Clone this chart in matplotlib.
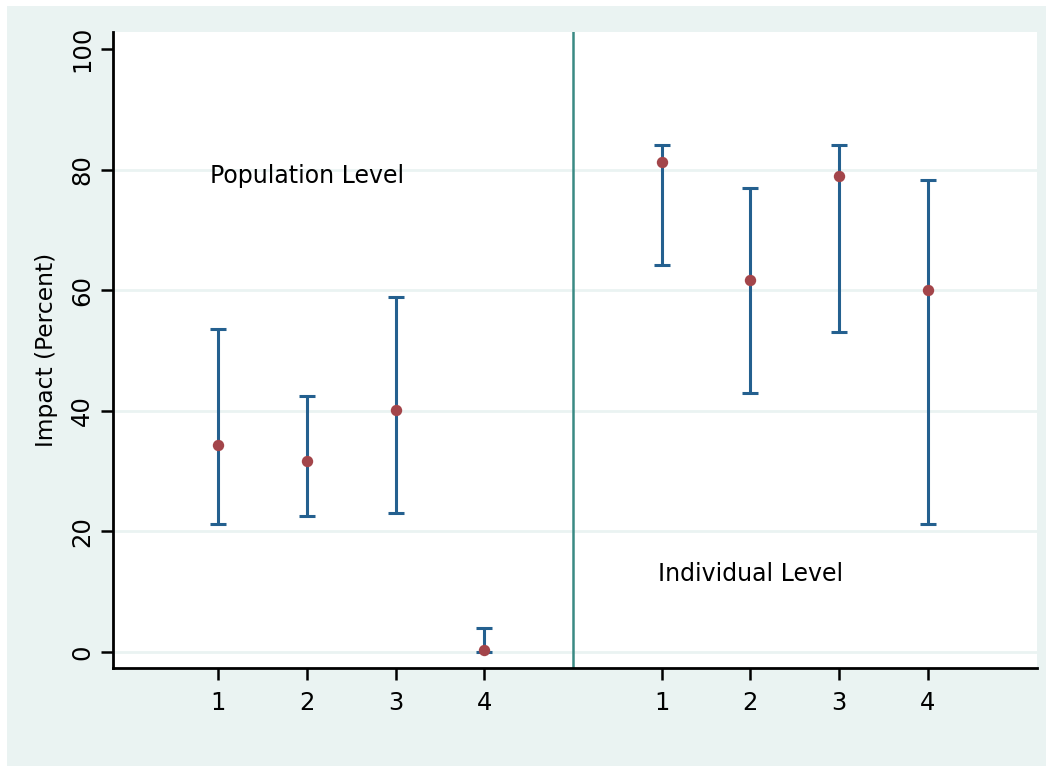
import matplotlib
matplotlib.use("Agg")
import matplotlib.pyplot as plt
from matplotlib.patches import Rectangle
import numpy as np

# ---- data ----
categories = ["1", "2", "3", "4"]
pop_est = [34.3, 31.6, 40.1, 0.3]
pop_lo = [21.2, 22.6, 23.1, 0.0]
pop_hi = [53.6, 42.5, 58.9, 4.0]
ind_est = [81.2, 61.7, 79.0, 60.0]
ind_lo = [64.2, 42.9, 53.1, 21.3]
ind_hi = [84.1, 76.9, 84.1, 78.2]
pop_x = [1, 2, 3, 4]
ind_x = [6, 7, 8, 9]
divider_x = 5
yticks = [0, 20, 40, 60, 80, 100]

BG = "#eaf3f2"
BAR = "#24608f"
PT = "#a3454a"
DIV = "#3a8a84"

plt.rcParams['font.family'] = ['DejaVu Sans']

W, H = 1051, 768
fig = plt.figure(figsize=(W / 100, H / 100), dpi=100, facecolor="white")

bgax = fig.add_axes([0, 0, 1, 1], zorder=-10)
bgax.set_axis_off()
bgax.set_xlim(0, 1)
bgax.set_ylim(0, 1)
bgax.add_patch(Rectangle((7 / W, 2 / H), 1039 / W, 760 / H,
                         facecolor=BG, edgecolor="none"))

ax = fig.add_axes([113 / W, 100 / H, (1037 - 113) / W, (668 - 32) / H], zorder=1)
ax.set_facecolor("white")

for y in yticks[:-1]:
    ax.axhline(y, color=BG, lw=2.0, zorder=1)

ax.axvline(divider_x, color=DIV, lw=1.8, zorder=2)

for xs, est, lo, hi in [(pop_x, pop_est, pop_lo, pop_hi),
                        (ind_x, ind_est, ind_lo, ind_hi)]:
    est = np.array(est)
    yerr = [est - np.array(lo), np.array(hi) - est]
    ax.errorbar(xs, est, yerr=yerr, fmt="none", ecolor=BAR, elinewidth=2.2,
                capsize=5.8, capthick=2.2, zorder=3)
    ax.plot(xs, est, "o", color=PT, ms=8.2, mec="none", zorder=4)

ax.text(0.906, 79.0, "Population Level", fontsize=17, va="center", ha="left")
ax.text(5.96, 13.0, "Individual Level", fontsize=17, va="center", ha="left")

ax.set_xlim(-0.188, 10.235)
ax.set_ylim(-2.66, 102.8)
ax.set_xticks(pop_x + ind_x)
ax.set_xticklabels(categories + categories)
ax.set_yticks(yticks)
ax.set_yticklabels([str(v) for v in yticks], rotation=90, va="center")

for s in ["top", "right"]:
    ax.spines[s].set_visible(False)
for s in ["left", "bottom"]:
    ax.spines[s].set_linewidth(2.0)
    ax.spines[s].set_color("black")

ax.tick_params(axis="both", length=8.5, width=1.8, labelsize=17.5, color="black")
ax.tick_params(axis="x", pad=8)
ax.tick_params(axis="y", pad=5)

ax.set_ylabel("Impact (Percent)", fontsize=16.8, labelpad=9)

fig.savefig("out.png", dpi=100, facecolor="white")
